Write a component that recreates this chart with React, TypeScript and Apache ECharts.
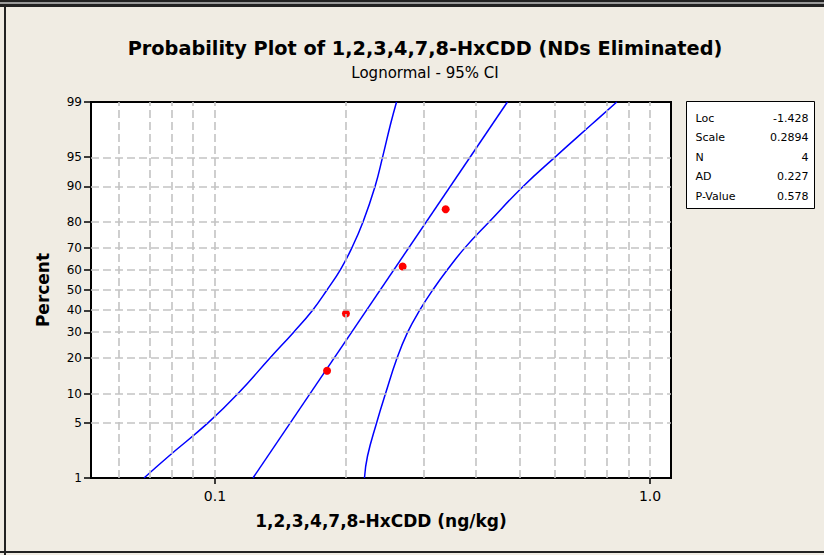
import React, { useEffect, useRef } from "react";
import * as echarts from "echarts";

// ---- data ----
const percentTicks = [1, 5, 10, 20, 30, 40, 50, 60, 70, 80, 90, 95, 99];
const percentGrid = [5, 10, 20, 30, 40, 50, 60, 70, 80, 90, 95];
const xGridValues = [0.06, 0.07, 0.08, 0.09, 0.1, 0.2, 0.3, 0.4, 0.5, 0.6, 0.7, 0.8, 0.9, 1.0];
const xTickValues = [0.1, 1.0];
const xTickLabels = ["0.1", "1.0"];
const xRange = [0.0519, 1.117];
const yRange = [1, 99];

const pointX = [0.181, 0.2, 0.27, 0.339];
const pointPercent = [15.9, 38.6, 61.4, 84.1];

const fitPercent = [1, 99];
const fitX = [0.1223, 0.47];

const ciPercent = [1, 2, 5, 10, 20, 30, 40, 50, 60, 70, 80, 90, 95, 98, 99];
const ciLowerX = [0.0687, 0.0784, 0.0964, 0.113, 0.1338, 0.1515, 0.1675, 0.1809, 0.1943, 0.2065, 0.2189, 0.2333, 0.2428, 0.2533, 0.2614];
const ciUpperX = [0.2206, 0.2242, 0.2352, 0.2466, 0.2621, 0.2771, 0.2953, 0.3166, 0.3424, 0.3756, 0.4265, 0.5106, 0.6048, 0.7356, 0.8384];

const statLabels = ["Loc", "Scale", "N", "AD", "P-Value"];
const statValues = ["-1.428", "0.2894", "4", "0.227", "0.578"];

const titleText = "Probability Plot of 1,2,3,4,7,8-HxCDD (NDs Eliminated)";
const subtitleText = "Lognormal - 95% CI";
const xName = "1,2,3,4,7,8-HxCDD (ng/kg)";
const yName = "Percent";

const FONT = "DejaVu Sans";

// inverse normal CDF (axis scale transform for the probability axis)
function probit(p: number): number {
  const a = [-3.969683028665376e1, 2.209460984245205e2, -2.759285104469687e2, 1.38357751867269e2, -3.066479806614716e1, 2.506628277459239];
  const b = [-5.447609879822406e1, 1.615858368580409e2, -1.556989798598866e2, 6.680131188771972e1, -1.328068155288572e1];
  const c = [-7.784894002430293e-3, -3.223964580411365e-1, -2.400758277161838, -2.549732539343734, 4.374664141464968, 2.938163982698783];
  const d = [7.784695709041462e-3, 3.224671290700398e-1, 2.445134137142996, 3.754408661907416];
  const pl = 0.02425;
  const ph = 1 - pl;
  if (p < pl) {
    const q = Math.sqrt(-2 * Math.log(p));
    return (((((c[0] * q + c[1]) * q + c[2]) * q + c[3]) * q + c[4]) * q + c[5]) / ((((d[0] * q + d[1]) * q + d[2]) * q + d[3]) * q + 1);
  }
  if (p <= ph) {
    const q = p - 0.5;
    const r = q * q;
    return ((((((a[0] * r + a[1]) * r + a[2]) * r + a[3]) * r + a[4]) * r + a[5]) * q) / (((((b[0] * r + b[1]) * r + b[2]) * r + b[3]) * r + b[4]) * r + 1);
  }
  const q = Math.sqrt(-2 * Math.log(1 - p));
  return -(((((c[0] * q + c[1]) * q + c[2]) * q + c[3]) * q + c[4]) * q + c[5]) / ((((d[0] * q + d[1]) * q + d[2]) * q + d[3]) * q + 1);
}

const tx = (v: number) => Math.log10(v);
const ty = (pct: number) => probit(pct / 100);

export default function App() {
  const ref = useRef<HTMLDivElement>(null);

  useEffect(() => {
    if (!ref.current) return;
    const chart = echarts.init(ref.current, null, { renderer: "svg" });

    const yTickZ = percentTicks.map(ty);
    const xTickL = xTickValues.map(tx);

    const blue = "#0000ff";

    const option: any = {
      animation: false,
      backgroundColor: "#f0ece3",
      title: {
        text: titleText,
        subtext: subtitleText,
        left: 420,
        top: 34,
        textAlign: "center",
        itemGap: 7,
        textStyle: { fontFamily: FONT, fontSize: 19.3, fontWeight: "bold", color: "#000" },
        subtextStyle: { fontFamily: FONT, fontSize: 15, color: "#000" },
      },
      grid: {
        left: 91,
        top: 102,
        width: 580,
        height: 376,
        show: true,
        backgroundColor: "#ffffff",
        borderColor: "#000",
        borderWidth: 2,
      },
      xAxis: {
        type: "value",
        min: tx(xRange[0]),
        max: tx(xRange[1]),
        name: xName,
        nameLocation: "middle",
        nameGap: 34,
        nameTextStyle: { fontFamily: FONT, fontSize: 17, fontWeight: "bold", color: "#000" },
        axisLine: { show: true, onZero: false, lineStyle: { color: "#000", width: 2 } },
        axisTick: { show: true, inside: false, length: 6, customValues: xTickL, lineStyle: { color: "#000", width: 1.5 } },
        axisLabel: {
          show: true,
          customValues: xTickL,
          margin: 11,
          fontFamily: FONT,
          fontSize: 14,
          color: "#000",
          formatter: (v: number) => {
            const i = xTickL.findIndex((t) => Math.abs(t - v) < 1e-6);
            return i >= 0 ? xTickLabels[i] : "";
          },
        },
        splitLine: { show: false },
      },
      yAxis: {
        type: "value",
        min: ty(yRange[0]),
        max: ty(yRange[1]),
        name: yName,
        nameLocation: "middle",
        nameGap: 40,
        nameRotate: 90,
        nameTextStyle: { fontFamily: FONT, fontSize: 17, fontWeight: "bold", color: "#000" },
        axisLine: { show: true, onZero: false, lineStyle: { color: "#000", width: 2 } },
        axisTick: { show: true, inside: false, length: 7, customValues: yTickZ, lineStyle: { color: "#000", width: 1.5 } },
        axisLabel: {
          show: true,
          customValues: yTickZ,
          margin: 9,
          fontFamily: FONT,
          fontSize: 12,
          color: "#000",
          formatter: (v: number) => {
            const i = yTickZ.findIndex((t) => Math.abs(t - v) < 1e-6);
            return i >= 0 ? String(percentTicks[i]) : "";
          },
        },
        splitLine: { show: false },
      },
      series: [
        {
          type: "line",
          data: [],
          silent: true,
          z: 1,
          markLine: {
            silent: true,
            animation: false,
            symbol: "none",
            label: { show: false },
            lineStyle: { color: "#c3c3c3", type: [8, 4], width: 1.6 },
            data: [
              ...xGridValues.map((v) => ({ xAxis: tx(v) })),
              ...percentGrid.map((p) => ({ yAxis: ty(p) })),
            ],
          },
        },
        {
          name: "Lower CI",
          type: "line",
          z: 3,
          symbol: "none",
          smooth: 0.45,
          lineStyle: { color: blue, width: 1.5 },
          data: ciPercent.map((p, i) => [tx(ciLowerX[i]), ty(p)]),
        },
        {
          name: "Upper CI",
          type: "line",
          z: 3,
          symbol: "none",
          smooth: 0.45,
          lineStyle: { color: blue, width: 1.5 },
          data: ciPercent.map((p, i) => [tx(ciUpperX[i]), ty(p)]),
        },
        {
          name: "Fit",
          type: "line",
          z: 3,
          symbol: "none",
          lineStyle: { color: blue, width: 1.5 },
          data: fitPercent.map((p, i) => [tx(fitX[i]), ty(p)]),
        },
        {
          name: "Data",
          type: "scatter",
          z: 4,
          symbol: "circle",
          symbolSize: 8,
          itemStyle: { color: "#ff0000", opacity: 1 },
          data: pointPercent.map((p, i) => [tx(pointX[i]), ty(p)]),
        },
      ],
      graphic: [
        // window frame
        { type: "rect", shape: { x: 0, y: 0, width: 824, height: 2 }, style: { fill: "#222" }, silent: true },
        { type: "rect", shape: { x: 0, y: 2, width: 824, height: 2 }, style: { fill: "#9a9a9a" }, silent: true },
        { type: "rect", shape: { x: 0, y: 4, width: 824, height: 3 }, style: { fill: "#222" }, silent: true },
        { type: "rect", shape: { x: 4, y: 5, width: 2, height: 550 }, style: { fill: "#222" }, silent: true },
        { type: "rect", shape: { x: 0, y: 551, width: 824, height: 2 }, style: { fill: "#222" }, silent: true },
        // stats box
        {
          type: "group",
          left: 686,
          top: 101,
          children: [
            { type: "rect", shape: { x: 0, y: 0, width: 128, height: 107 }, style: { fill: "#fff", stroke: "#000", lineWidth: 1 } },
            ...statLabels.map((s, i) => ({
              type: "text",
              x: 9,
              y: 17 + i * 19.4,
              style: { text: s, fontFamily: FONT, fontSize: 11, fill: "#000", textAlign: "left", textVerticalAlign: "middle" },
            })),
            ...statValues.map((s, i) => ({
              type: "text",
              x: 122,
              y: 17 + i * 19.4,
              style: { text: s, fontFamily: FONT, fontSize: 11, fill: "#000", textAlign: "right", textVerticalAlign: "middle" },
            })),
          ],
        },
      ],
    };

    chart.setOption(option);
    return () => chart.dispose();
  }, []);

  return (
    <div
      ref={ref}
      style={{ position: "fixed", left: 0, top: 0, width: 824, height: 555 }}
    />
  );
}
